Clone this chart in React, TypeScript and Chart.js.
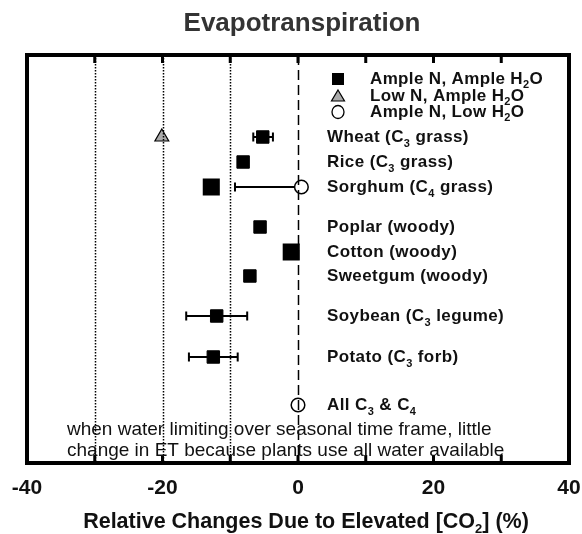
import React, { useEffect, useRef } from "react";
import { Chart, registerables } from "chart.js";

Chart.register(...registerables);

// ---------- data ----------
const chartTitle = "Evapotranspiration";
const axisTitle = "Relative Changes Due to Elevated [CO_2] (%)";

const categories = [
  "Wheat (C_3 grass)",
  "Rice (C_3 grass)",
  "Sorghum (C_4 grass)",
  "Poplar (woody)",
  "Cotton (woody)",
  "Sweetgum (woody)",
  "Soybean (C_3 legume)",
  "Potato (C_3 forb)",
  "All C_3 & C_4",
];
// vertical row position of each category (categorical spacing with group gaps)
const rowPos = [1, 2, 3, 4.6, 5.6, 6.56, 8.16, 9.8, 11.72];

// Ample N, Ample H2O
const ampleValues = [-5.2, -8.1, -12.8, -5.6, -1.0, -7.1, -12.0, -12.5, null];
const ampleErrLow = [-6.6, null, null, null, null, null, -16.5, -16.1, null];
const ampleErrHigh = [-3.7, null, null, null, null, null, -7.5, -8.9, null];

// Low N, Ample H2O
const lowNValues = [-20.1, null, null, null, null, null, null, null, null];

// Ample N, Low H2O
const lowH2OValues = [null, null, 0.5, null, null, null, null, null, 0.0];
const lowH2OErrLow = [null, null, -9.3, null, null, null, null, null, null];
const lowH2OErrHigh = [null, null, 0.5, null, null, null, null, null, null];

const legendLabels = ["Ample N, Ample H_2O", "Low N, Ample H_2O", "Ample N, Low H_2O"];
const legendRows = [-1.32, -0.64, 0.0];

const noteLines = [
  "when water limiting over seasonal time frame, little",
  "change in ET because plants use all water available",
];
const noteRows = [12.72, 13.54];

const xTickLabels = [-40, -20, 0, 20, 40];
const xTickMarks = [-30, -20, -10, 0, 10, 20, 30];
const dottedLines = [-30, -20, -10];
const dashedLines = [0];

// ---------- helpers ----------
const FAMILY = '"Liberation Sans", Arial, Helvetica, sans-serif';

type Part = { t: string; sub: boolean };
function parseRich(text: string): Part[] {
  const parts: Part[] = [];
  let buf = "";
  for (let i = 0; i < text.length; i++) {
    if (text[i] === "_" && i + 1 < text.length) {
      if (buf) parts.push({ t: buf, sub: false });
      buf = "";
      parts.push({ t: text[i + 1], sub: true });
      i++;
    } else buf += text[i];
  }
  if (buf) parts.push({ t: buf, sub: false });
  return parts;
}

function drawRich(
  ctx: CanvasRenderingContext2D,
  text: string,
  x: number,
  y: number,
  size: number,
  weight: string,
  align: "left" | "center",
  color: string,
  spacing = 0
) {
  const parts = parseRich(text);
  const mainFont = `${weight} ${size}px ${FAMILY}`;
  const subSize = Math.round(size * 0.62);
  const subFont = `${weight} ${subSize}px ${FAMILY}`;
  ctx.save();
  (ctx as any).letterSpacing = `${spacing}px`;
  let total = 0;
  const widths: number[] = [];
  for (const p of parts) {
    ctx.font = p.sub ? subFont : mainFont;
    const w = ctx.measureText(p.t).width;
    widths.push(w);
    total += w;
  }
  let cx = align === "center" ? x - total / 2 : x;
  ctx.fillStyle = color;
  ctx.textAlign = "left";
  ctx.textBaseline = "middle";
  parts.forEach((p, i) => {
    ctx.font = p.sub ? subFont : mainFont;
    ctx.fillText(p.t, cx, p.sub ? y + size * 0.36 : y);
    cx += widths[i];
  });
  ctx.restore();
}

const decorPlugin = {
  id: "decor",
  beforeDatasetsDraw(chart: any) {
    const ctx: CanvasRenderingContext2D = chart.ctx;
    const xs = chart.scales.x;
    const ys = chart.scales.y;
    const drawErr = (
      lo: (number | null)[],
      hi: (number | null)[],
      vals: (number | null)[],
      capH: number
    ) => {
      lo.forEach((l, i) => {
        const h = hi[i];
        if (l === null || h === null) return;
        const y = ys.getPixelForValue(rowPos[i]);
        const x1 = xs.getPixelForValue(l);
        const x2 = xs.getPixelForValue(h);
        ctx.save();
        ctx.strokeStyle = "#000";
        ctx.lineWidth = 2;
        ctx.beginPath();
        ctx.moveTo(x1, y);
        ctx.lineTo(x2, y);
        ctx.moveTo(x1, y - capH / 2);
        ctx.lineTo(x1, y + capH / 2);
        if (h !== vals[i]) {
          ctx.moveTo(x2, y - capH / 2);
          ctx.lineTo(x2, y + capH / 2);
        }
        ctx.stroke();
        ctx.restore();
      });
    };
    drawErr(ampleErrLow, ampleErrHigh, ampleValues, 9);
    drawErr(lowH2OErrLow, lowH2OErrHigh, lowH2OValues, 9);
  },
  afterDatasetsDraw(chart: any) {
    const ctx: CanvasRenderingContext2D = chart.ctx;
    const { left, right, top, bottom } = chart.chartArea;
    const xs = chart.scales.x;
    const ys = chart.scales.y;

    ctx.save();
    ctx.strokeStyle = "#000";
    ctx.lineWidth = 1.5;
    ctx.setLineDash([1.5, 1.5]);
    for (const v of dottedLines) {
      const x = Math.round(xs.getPixelForValue(v)) + 0.5;
      ctx.beginPath();
      ctx.moveTo(x, top);
      ctx.lineTo(x, bottom);
      ctx.stroke();
    }
    ctx.setLineDash([10, 5]);
    ctx.lineWidth = 1.5;
    for (const v of dashedLines) {
      const x = Math.round(xs.getPixelForValue(v)) + 0.5;
      ctx.beginPath();
      ctx.moveTo(x, top);
      ctx.lineTo(x, bottom);
      ctx.stroke();
    }
    ctx.setLineDash([]);
    ctx.lineWidth = 3;
    for (const v of xTickMarks) {
      const x = xs.getPixelForValue(v);
      ctx.beginPath();
      ctx.moveTo(x, top);
      ctx.lineTo(x, top + 8);
      ctx.moveTo(x, bottom);
      ctx.lineTo(x, bottom - 8);
      ctx.stroke();
    }
    ctx.lineWidth = 4;
    ctx.strokeRect(left, top, right - left, bottom - top);
    ctx.restore();

    // category labels
    const labelX = 327;
    categories.forEach((c, i) => {
      drawRich(ctx, c, labelX, ys.getPixelForValue(rowPos[i]) + 0.5, 17, "bold", "left", "#111", 0.4);
    });

    // legend
    const markX = 338;
    legendLabels.forEach((l, i) => {
      const y = ys.getPixelForValue(legendRows[i]);
      ctx.save();
      ctx.strokeStyle = "#000";
      if (i === 0) {
        ctx.fillStyle = "#000";
        ctx.fillRect(markX - 6, y - 6, 12, 12);
      } else if (i === 1) {
        ctx.fillStyle = "#aaa";
        ctx.lineWidth = 1.2;
        ctx.beginPath();
        ctx.moveTo(markX, y - 6);
        ctx.lineTo(markX + 6.5, y + 5);
        ctx.lineTo(markX - 6.5, y + 5);
        ctx.closePath();
        ctx.fill();
        ctx.stroke();
      } else {
        ctx.fillStyle = "#fff";
        ctx.lineWidth = 1.3;
        ctx.beginPath();
        ctx.ellipse(markX, y, 6, 6.5, 0, 0, Math.PI * 2);
        ctx.fill();
        ctx.stroke();
      }
      ctx.restore();
      drawRich(ctx, l, 370, y, 17, "bold", "left", "#111", 0.35);
    });

    // notes
    noteLines.forEach((n, i) => {
      drawRich(ctx, n, 67, ys.getPixelForValue(noteRows[i]), 19, "normal", "left", "#111");
    });
  },
  afterDraw(chart: any) {
    const ctx: CanvasRenderingContext2D = chart.ctx;
    const xs = chart.scales.x;
    const { bottom } = chart.chartArea;
    for (const v of xTickLabels) {
      drawRich(ctx, String(v), xs.getPixelForValue(v), bottom + 25, 21, "bold", "center", "#111");
    }
    drawRich(ctx, axisTitle, 306, bottom + 59, 21.5, "bold", "center", "#111");
    drawRich(ctx, chartTitle, 302, 24, 26, "bold", "center", "#333");
  },
};

export default function App() {
  const ref = useRef<HTMLCanvasElement | null>(null);
  useEffect(() => {
    document.body.style.margin = "0";
    const canvas = ref.current;
    if (!canvas) return;
    const pts = (vals: (number | null)[]) =>
      vals.map((v, i) => (v === null ? null : { x: v, y: rowPos[i] })).filter((p) => p !== null);
    const big = (i: number) => i === 2 || i === 4;
    const ampleRadius = ampleValues
      .map((v, i) => (v === null ? null : big(i) ? 10.3 : 8.8))
      .filter((s) => s !== null);
    const ampleBorder = ampleValues
      .map((v, i) => (v === null ? null : big(i) ? 2.5 : 1))
      .filter((s) => s !== null);

    const chart = new Chart(canvas, {
      type: "scatter",
      data: {
        datasets: [
          {
            label: "Ample N, Ample H2O",
            data: pts(ampleValues) as any,
            pointStyle: "rect",
            pointRadius: ampleRadius as any,
            pointBorderWidth: ampleBorder as any,
            backgroundColor: "#000",
            borderColor: "#000",
            borderJoinStyle: "round",
          } as any,
          {
            label: "Low N, Ample H2O",
            data: pts(lowNValues) as any,
            pointStyle: "triangle",
            pointRadius: 8,
            backgroundColor: "#aaa",
            borderColor: "#000",
            borderWidth: 1.2,
          },
          {
            label: "Ample N, Low H2O",
            data: pts(lowH2OValues) as any,
            pointStyle: "circle",
            pointRadius: 6.8,
            backgroundColor: "#fff",
            borderColor: "#000",
            borderWidth: 1.5,
          },
        ],
      },
      options: {
        responsive: false,
        animation: false,
        layout: { padding: { left: 27, right: 13, top: 55, bottom: 71 } },
        scales: {
          x: { type: "linear", min: -40, max: 40, display: false },
          y: { type: "linear", min: -2.28, max: 14.04, reverse: true, display: false },
        },
        plugins: {
          legend: { display: false },
          title: { display: false },
          tooltip: { enabled: false },
        },
      },
      plugins: [decorPlugin],
    });
    return () => chart.destroy();
  }, []);
  return (
    <div style={{ width: 582, height: 534, background: "#fff" }}>
      <canvas ref={ref} width={582} height={534} style={{ display: "block" }} />
    </div>
  );
}
